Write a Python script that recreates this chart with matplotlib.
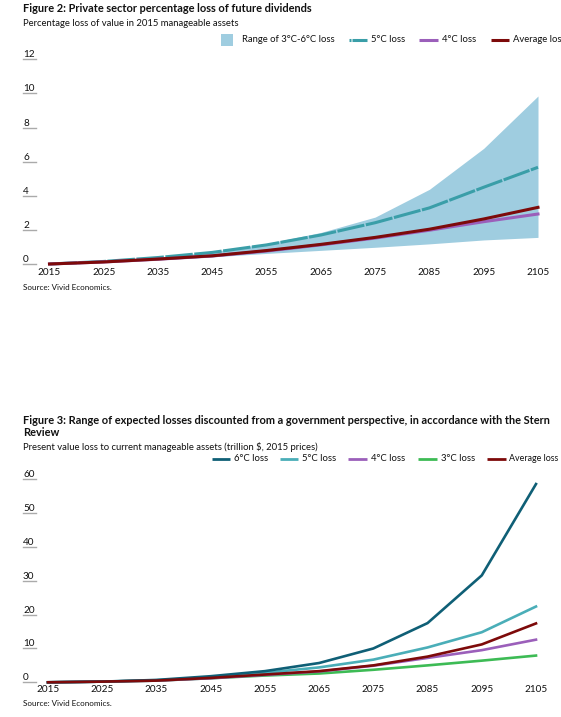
import matplotlib
matplotlib.use("Agg")
import matplotlib.pyplot as plt
from matplotlib.transforms import blended_transform_factory
from matplotlib.lines import Line2D
from matplotlib.patches import Rectangle

plt.rcParams['font.family'] = ['Lato', 'DejaVu Sans']

# ---------------- data ----------------
years = [2015, 2025, 2035, 2045, 2055, 2065, 2075, 2085, 2095, 2105]
year_labels = [str(y) for y in years]

# Figure 2: percentage loss of value
f2_upper_6c = [0, 0.15, 0.40, 0.72, 1.20, 1.85, 2.75, 4.38, 6.78, 9.85]
f2_lower_3c = [0, 0.10, 0.25, 0.42, 0.62, 0.80, 0.98, 1.18, 1.41, 1.56]
f2_5c = [0, 0.15, 0.38, 0.68, 1.12, 1.70, 2.42, 3.29, 4.50, 5.67]
f2_4c = [0, 0.12, 0.28, 0.47, 0.76, 1.12, 1.52, 1.98, 2.48, 2.93]
f2_avg = [0, 0.12, 0.29, 0.48, 0.79, 1.15, 1.56, 2.04, 2.64, 3.32]
f2_yticks = [0, 2, 4, 6, 8, 10, 12]

# Figure 3: present value loss (trillion $)
f3_6c = [0, 0.2, 0.7, 1.8, 3.3, 5.7, 10.0, 17.5, 31.6, 58.6]
f3_5c = [0, 0.2, 0.6, 1.4, 2.8, 4.4, 6.7, 10.3, 14.8, 22.4]
f3_4c = [0, 0.2, 0.5, 1.2, 2.2, 3.2, 4.9, 7.2, 9.5, 12.6]
f3_3c = [0, 0.2, 0.5, 1.2, 2.0, 2.6, 3.7, 5.0, 6.4, 7.9]
f3_avg = [0, 0.2, 0.5, 1.3, 2.3, 3.3, 5.0, 7.6, 11.2, 17.4]
f3_yticks = [0, 10, 20, 30, 40, 50, 60]

# ---------------- styling ----------------
W, H = 561, 717
C_BAND = '#9fcde0'
C_6C = '#0f5f76'
C_5C_F2 = '#3a9ea8'
C_5C_F3 = '#4aaeb8'
C_4C = '#9b5fba'
C_3C = '#3dbb55'
C_AVG = '#7d0a0a'
TXT = '#111111'
GRID = '#aaaaaa'

FS_TITLE = 7.9
FS_SUB = 6.8
FS_TICK = 7.2
FS_LEG = 6.8
FS_SRC = 5.8

fig = plt.figure(figsize=(W / 100, H / 100), dpi=100)


def fx(x):
    return x / W


def fy(y):
    return 1 - y / H


def make_axes(x0, x1, y_top, y_zero):
    ax = fig.add_axes([fx(x0), fy(y_zero), (x1 - x0) / W, (y_zero - y_top) / H])
    ax.set_axis_off()
    return ax


def decorate(ax, yticks, ymax, xlab_y, src_y):
    ax.set_xlim(years[0], years[-1])
    ax.set_ylim(0, ymax)
    bt = blended_transform_factory(fig.transFigure, ax.transData)
    for v in yticks:
        ax.text(fx(23), v, str(v), transform=bt, ha='left', va='bottom',
                fontsize=FS_TICK, color=TXT, clip_on=False)
        ax.add_line(Line2D([fx(23), fx(36)], [v, v], transform=bt,
                           color=GRID, lw=1.0, clip_on=False))
    bx = blended_transform_factory(ax.transData, fig.transFigure)
    for yr, lab in zip(years, year_labels):
        ax.text(yr, fy(xlab_y), lab, transform=bx, ha='center', va='center',
                fontsize=FS_TICK, color=TXT, clip_on=False)
    fig.text(fx(23), fy(src_y), 'Source: Vivid Economics.', ha='left',
             va='center', fontsize=FS_SRC, color=TXT)


def legend_line(x0, x1, y, color, label, lw=2.2, dashed=False, fs=FS_LEG, gap=4):
    if dashed:
        fig.add_artist(Line2D([fx(x0), fx(x0 + 1.5)], [fy(y), fy(y)],
                              color=color, lw=lw, solid_capstyle='butt'))
        fig.add_artist(Line2D([fx(x0 + 3), fx(x1)], [fy(y), fy(y)],
                              color=color, lw=lw, solid_capstyle='butt'))
    else:
        fig.add_artist(Line2D([fx(x0), fx(x1)], [fy(y), fy(y)],
                              color=color, lw=lw, solid_capstyle='butt'))
    fig.text(fx(x1 + gap), fy(y), label, ha='left', va='center',
             fontsize=fs, color=TXT)


# ---------------- Figure 2 ----------------
fig.text(fx(23), fy(9), 'Figure 2: Private sector percentage loss of future dividends',
         ha='left', va='center', fontsize=FS_TITLE, fontweight='bold', color=TXT)
fig.text(fx(23), fy(24), 'Percentage loss of value in 2015 manageable assets',
         ha='left', va='center', fontsize=FS_SUB, color=TXT)

ax2 = make_axes(49.5, 538, 59.3, 264)
decorate(ax2, f2_yticks, 12, 273, 288)
ax2.fill_between(years, f2_lower_3c, f2_upper_6c, color=C_BAND, lw=0)
ax2.plot(years, f2_5c, color=C_5C_F2, lw=2.2, dashes=(9, 0.5), clip_on=False)
ax2.plot(years, f2_4c, color=C_4C, lw=2.2, clip_on=False)
ax2.plot(years, f2_avg, color=C_AVG, lw=2.2, clip_on=False)

fig.add_artist(Rectangle((fx(221), fy(46)), 12 / W, 12 / H, color=C_BAND, lw=0))
fig.text(fx(242), fy(40), 'Range of 3°C-6°C loss', ha='left', va='center',
         fontsize=FS_LEG, color=TXT)
legend_line(349, 367, 40, C_5C_F2, '5°C loss', dashed=True)
legend_line(419, 438, 40, C_4C, '4°C loss')
legend_line(491, 509, 40, C_AVG, 'Average loss')

# ---------------- Figure 3 ----------------
fig.text(fx(23), fy(420),
         'Figure 3: Range of expected losses discounted from a government perspective, in accordance with the Stern',
         ha='left', va='center', fontsize=FS_TITLE, fontweight='bold', color=TXT)
fig.text(fx(23), fy(432), 'Review', ha='left', va='center', fontsize=FS_TITLE,
         fontweight='bold', color=TXT)
fig.text(fx(23), fy(447), 'Present value loss to current manageable assets (trillion $, 2015 prices)',
         ha='left', va='center', fontsize=FS_SUB, color=TXT)

ax3 = make_axes(48, 536, 479.3, 682.3)
decorate(ax3, f3_yticks, 60, 689, 704)
ax3.plot(years, f3_3c, color=C_3C, lw=1.9, clip_on=False)
ax3.plot(years, f3_4c, color=C_4C, lw=1.9, clip_on=False)
ax3.plot(years, f3_5c, color=C_5C_F3, lw=1.9, clip_on=False)
ax3.plot(years, f3_6c, color=C_6C, lw=1.9, clip_on=False)
ax3.plot(years, f3_avg, color=C_AVG, lw=1.9, clip_on=False)

legend_line(212, 230, 459, C_6C, '6°C loss', lw=2.0)
legend_line(280, 298, 459, C_5C_F3, '5°C loss', lw=2.0)
legend_line(348, 367, 459, C_4C, '4°C loss', lw=2.0)
legend_line(418, 437, 459, C_3C, '3°C loss', lw=2.0)
legend_line(487, 506, 459, C_AVG, 'Average loss', lw=2.0, fs=6.4, gap=3)

fig.savefig('out.png', dpi=100)
